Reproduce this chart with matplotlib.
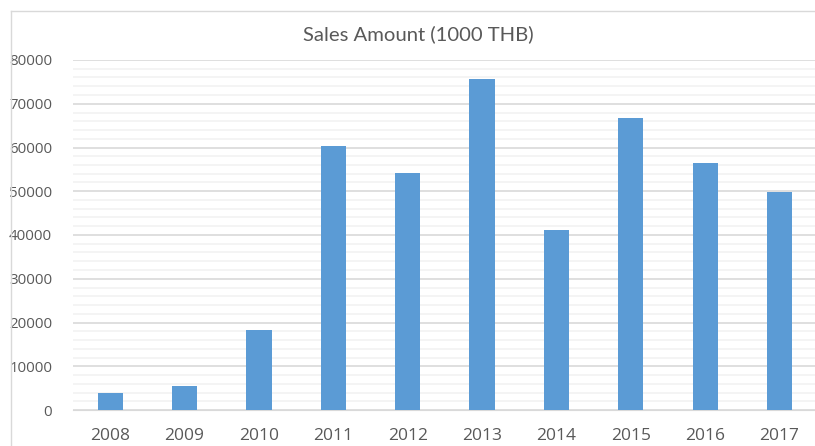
import matplotlib.pyplot as plt
import numpy as np
from matplotlib.lines import Line2D
import matplotlib.ticker as ticker

years = ["2008", "2009", "2010", "2011", "2012", "2013", "2014", "2015", "2016", "2017"]
sales = [3800, 5500, 18200, 60300, 54200, 75700, 41200, 66700, 56500, 49900]

plt.rcParams["font.family"] = ["Open Sans", "DejaVu Sans"]

fig = plt.figure(figsize=(8.15, 4.46), dpi=100)
ax = fig.add_axes([73 / 815, 1 - 410 / 446, (816.7 - 73) / 815, 350 / 446])

x = np.arange(len(years))
ax.bar(x, sales, width=0.34, color="#5B9BD5", zorder=3)

ax.set_xlim(-0.5, len(years) - 0.5)
ax.set_ylim(0, 80000)
ax.set_xticks(x)
ax.set_xticklabels(years)
ax.yaxis.set_major_locator(ticker.MultipleLocator(10000))
ax.yaxis.set_minor_locator(ticker.MultipleLocator(2000))
ax.grid(which="major", axis="y", color="#d9d9d9", linewidth=1.2, zorder=0)
ax.grid(which="minor", axis="y", color="#f2f2f2", linewidth=1.2, zorder=0)
ax.tick_params(axis="both", which="both", length=0, colors="#595959")
ax.tick_params(axis="y", pad=15, labelsize=10.8)
ax.tick_params(axis="x", pad=13, labelsize=12.5)
for s in ["top", "right", "left"]:
    ax.spines[s].set_visible(False)
ax.spines["bottom"].set_color("#d9d9d9")

fig.text(418 / 815, 1 - 34 / 446, "Sales Amount (1000 THB)", ha="center", va="center",
         fontsize=14.6, color="#595959", family=["Lato", "DejaVu Sans"])

# chart border (left and top edges visible in the crop)
fig.add_artist(Line2D([11 / 815, 11 / 815], [0, 1 - 11 / 446], transform=fig.transFigure,
                      color="#d9d9d9", linewidth=1))
fig.add_artist(Line2D([11 / 815, 1], [1 - 11 / 446, 1 - 11 / 446], transform=fig.transFigure,
                      color="#d9d9d9", linewidth=1))

fig.savefig("out.png", dpi=100)
